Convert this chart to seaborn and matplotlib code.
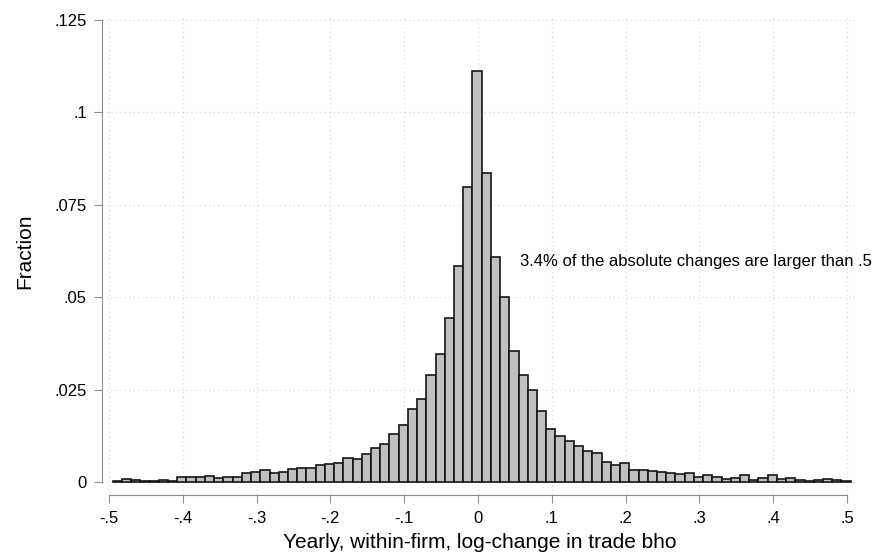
import numpy as np
import pandas as pd
import matplotlib
matplotlib.use("Agg")
import matplotlib.pyplot as plt
import seaborn as sns

# ---- data ----
bin_start = -0.495
bin_width = 0.0125
fractions = [
    0.0002, 0.0008, 0.0006, 0.00035, 0.00035, 0.0006, 0.00035, 0.00135, 0.00135, 0.0013,
    0.0017, 0.0010, 0.00135, 0.0014, 0.0023, 0.0026, 0.0032, 0.0023, 0.0026, 0.0034,
    0.0037, 0.0039, 0.0045, 0.0048, 0.0050, 0.0065, 0.0063, 0.0077, 0.0092, 0.0102,
    0.0130, 0.0154, 0.0198, 0.0225, 0.0289, 0.0345, 0.0444, 0.0585, 0.0797, 0.1110,
    0.0834, 0.0609, 0.0500, 0.0355, 0.0288, 0.0249, 0.0193, 0.0142, 0.0124, 0.0112,
    0.0097, 0.0084, 0.0079, 0.0053, 0.0047, 0.0051, 0.0032, 0.0032, 0.0030, 0.0027,
    0.0024, 0.0021, 0.0025, 0.0014, 0.0020, 0.0014, 0.0009, 0.0011, 0.0018, 0.00045,
    0.0011, 0.0020, 0.0008, 0.0012, 0.00055, 0.0003, 0.00055, 0.0008, 0.0006, 0.0003,
]
x_ticks = [-0.5, -0.4, -0.3, -0.2, -0.1, 0.0, 0.1, 0.2, 0.3, 0.4, 0.5]
x_tick_labels = ["-.5", "-.4", "-.3", "-.2", "-.1", "0", ".1", ".2", ".3", ".4", ".5"]
y_ticks = [0.0, 0.025, 0.05, 0.075, 0.1, 0.125]
y_tick_labels = ["0", ".025", ".05", ".075", ".1", ".125"]
x_title = "Yearly, within-firm, log-change in trade bho"
y_title = "Fraction"
note_text = "3.4% of the absolute changes are larger than .5"
note_x, note_y = 0.0575, 0.0595

edges = [bin_start + bin_width * i for i in range(len(fractions) + 1)]
centers = [(edges[i] + edges[i + 1]) / 2 for i in range(len(fractions))]
df = pd.DataFrame({"change": centers, "fraction": fractions})

sns.set_style("white")
plt.rcParams["font.family"] = ["Liberation Sans", "DejaVu Sans"]

fig = plt.figure(figsize=(8.79, 5.59), dpi=100)
ax = fig.add_axes([102 / 879, 1 - 495 / 559, 756 / 879, 480 / 559])

sns.histplot(data=df, x="change", weights="fraction", bins=edges, stat="count",
             color="#c0c0c0", edgecolor="#151515", linewidth=1.2, alpha=1.0, ax=ax)

ax.set_xlim(-0.50949, 0.51491)
ax.set_ylim(-0.003514, 0.12622)

ax.set_xticks(x_ticks)
ax.set_xticklabels(x_tick_labels)
ax.set_yticks(y_ticks)
ax.set_yticklabels(y_tick_labels)

grid_col = "#d2d2d2"
ax.set_axisbelow(True)
ax.grid(True, linestyle=(0, (1, 3)), color=grid_col, linewidth=0.8)

for s in ["top", "right"]:
    ax.spines[s].set_visible(False)
for s in ["left", "bottom"]:
    ax.spines[s].set_color("#8f8f8f")
    ax.spines[s].set_linewidth(0.8)
ax.spines["left"].set_bounds(0, 0.125)
ax.spines["bottom"].set_bounds(-0.5, 0.5)

ax.tick_params(axis="both", which="both", direction="out", length=5.5, width=0.8,
               color="#8f8f8f", labelsize=12, labelcolor="black")
ax.tick_params(axis="x", pad=6.0, bottom=True)
ax.tick_params(axis="y", pad=5.3, left=True)

ax.set_xlabel(x_title, fontsize=15, color="black")
ax.set_ylabel(y_title, fontsize=15, color="black")
ax.xaxis.label.set_va("center")
ax.yaxis.label.set_va("center")
ax.xaxis.set_label_coords(0.5, (495 - 543) / 480)
ax.yaxis.set_label_coords((25 - 102) / 756, (495 - 251) / 480)

ax.text(note_x, note_y, note_text, ha="left", va="center", fontsize=12, color="black")

fig.savefig("out.png", dpi=100)
